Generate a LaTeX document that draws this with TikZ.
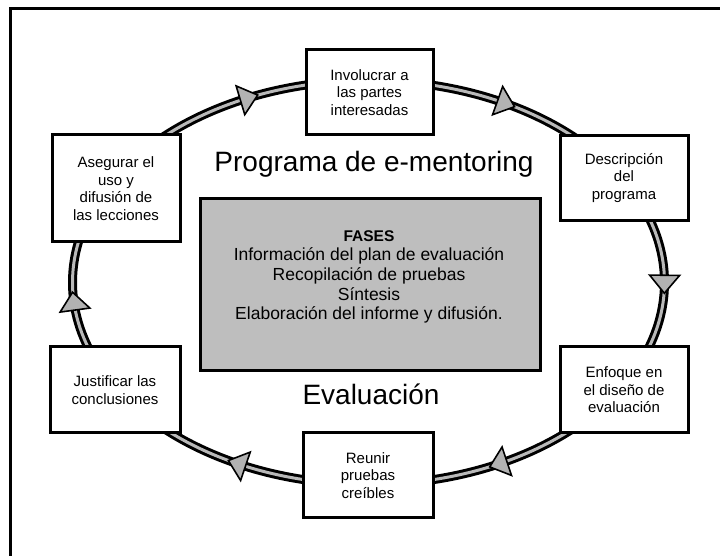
\documentclass[tikz,border=0pt]{standalone}
\usepackage{fontspec}
\setmainfont{Liberation Sans}
\definecolor{ringgray}{RGB}{185,185,185}
\definecolor{boxgray}{RGB}{190,190,190}
\definecolor{tipgray}{RGB}{178,178,178}
\tikzset{
  stepbox/.style={draw, line width=3pt, fill=white, align=center, inner sep=0pt,
    minimum width=128pt, minimum height=85pt, font=\fontsize{15}{17.5}\selectfont},
  arrowtri/.style={draw=black, fill=tipgray, line width=1.6pt, line join=miter},
}
\begin{document}
\begin{tikzpicture}[x=1pt,y=1pt]
\useasboundingbox (0,0) rectangle (720,556);
\clip (0,0) rectangle (720,556);
% outer frame
\draw[line width=3pt] (10,-20) rectangle (740,547);
% ring
\draw[line width=9pt] (368.5,273.5) ellipse [x radius=296, y radius=202];
\draw[line width=3pt, ringgray] (368.5,273.5) ellipse [x radius=296, y radius=202];
% arrowheads along the ring (clockwise)
\foreach \t in {113.8, 62.3, -0.5, -64, -116.4, 185.3} {
  \pgfmathsetmacro\ang{atan2(-202*cos(\t), 296*sin(\t))}
  \draw[arrowtri, shift={({368.5+296*cos(\t)},{273.5+202*sin(\t)})}, rotate=\ang]
    (9,0) -- (-9,15) -- (-9,-15) -- cycle;
}
% boxes
\node[stepbox, minimum width=127pt] (invol) at (369.5,463.5) {Involucrar a\\las partes\\interesadas};
\node[stepbox] (desc) at (624,378) {Descripción\\del\\programa};
\node[stepbox, minimum height=86pt] (enfo) at (624,166) {Enfoque en\\el diseño de\\evaluación};
\node[stepbox, minimum width=130pt] (reun) at (368,80.5) {Reunir\\pruebas\\creíbles};
\node[stepbox, minimum width=130pt, minimum height=86pt] (just) at (115,166) {Justificar las\\conclusiones};
\node[stepbox, minimum height=107pt] (aseg) at (116,367.5) {Asegurar el\\uso y\\difusión de\\las lecciones};
% central box
\node[draw, line width=3pt, fill=boxgray, minimum width=340pt, minimum height=172pt, inner sep=0pt] (fbox) at (370,271) {};
\node[align=center, anchor=north, inner sep=0pt, font=\fontsize{17.5}{19.7}\selectfont] (fases) at (369,326)
  {{\bfseries\fontsize{15.5}{19.7}\selectfont FASES}\\Información del plan de evaluación\\Recopilación de pruebas\\Síntesis\\Elaboración del informe y difusión.};
% titles
\node[anchor=base, inner sep=0pt, font=\fontsize{28}{30}\selectfont] (prog) at (374,384) {Programa de e-mentoring};
\node[anchor=base, inner sep=0pt, font=\fontsize{28}{30}\selectfont] (eval) at (371,151) {Evaluación};
\end{tikzpicture}
\end{document}
